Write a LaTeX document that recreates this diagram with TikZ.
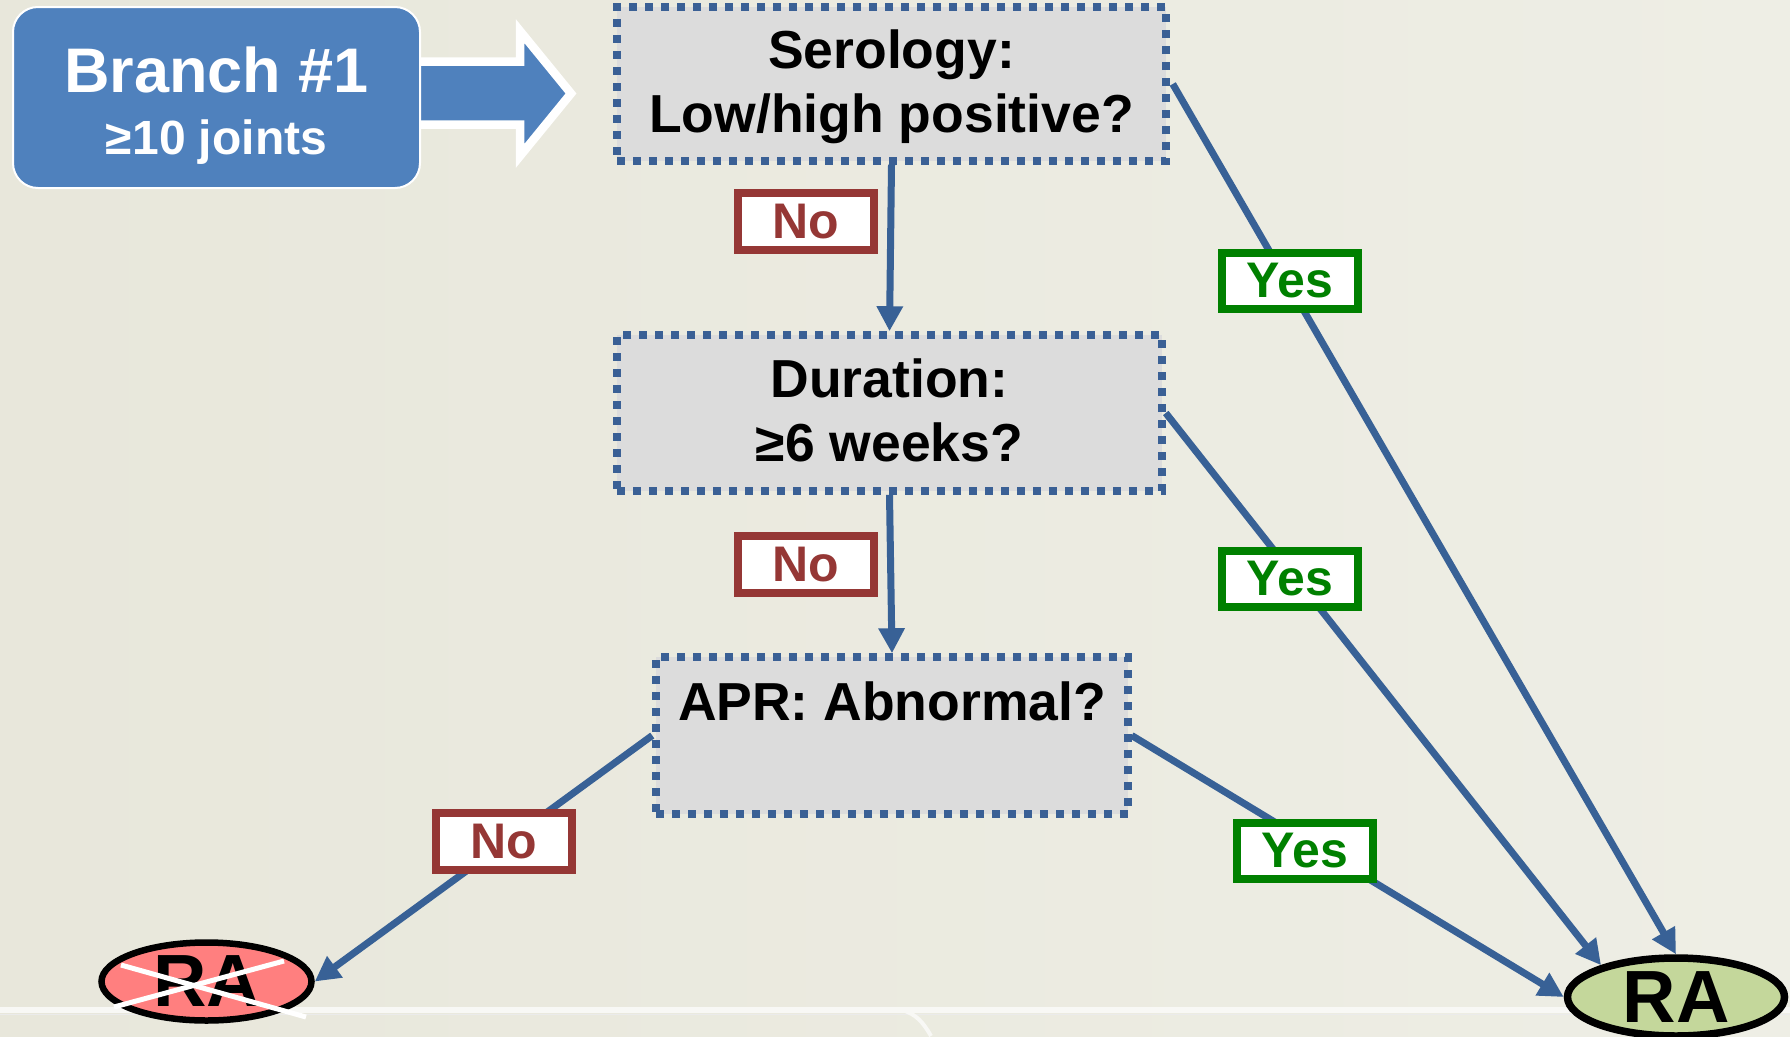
\documentclass[tikz,border=0pt]{standalone}
\usepackage{fontspec}
\setmainfont{Liberation Sans}
\usetikzlibrary{arrows.meta,shapes.geometric}

\definecolor{bgA}{RGB}{232,231,219}
\definecolor{bgB}{RGB}{238,238,229}
\definecolor{branchblue}{RGB}{79,129,189}
\definecolor{dotblue}{RGB}{58,96,149}
\definecolor{linkblue}{RGB}{56,97,150}
\definecolor{boxgray}{RGB}{220,220,220}
\definecolor{nored}{RGB}{149,55,53}
\definecolor{yesgreen}{RGB}{0,128,0}
\definecolor{rared}{RGB}{255,127,127}
\definecolor{ragreen}{RGB}{196,215,155}

\begin{document}
\begin{tikzpicture}[x=1pt,y=-1pt,
  question/.style={draw=dotblue, fill=boxgray, line width=7.5pt,
    dash pattern=on 8pt off 8pt, align=center, inner sep=0pt,
    text depth=5pt, font=\fontsize{53.5pt}{64pt}\selectfont\bfseries},
  branchbox/.style={draw=white, fill=branchblue, line width=2pt,
    rounded corners=25pt, minimum width=407pt, minimum height=181pt,
    inner sep=0pt},
  branchtext/.style={align=center, inner sep=0pt, text=white, text depth=0pt,
    font=\fontsize{63pt}{62pt}\selectfont\bfseries},
  conn/.style={draw=linkblue, line width=7pt,
    -{Triangle[length=25pt,width=25pt]}},
  answer/.style={fill=white, line width=8pt, inner sep=0pt,
    minimum width=136pt, minimum height=57pt,
    font=\fontsize{50pt}{60pt}\selectfont\bfseries},
  nolabel/.style={answer, draw=nored, text=nored},
  yeslabel/.style={answer, draw=yesgreen, text=yesgreen, minimum height=56pt},
  outcome/.style={ellipse, draw=black, inner sep=0pt,
    font=\fontsize{74pt}{74pt}\selectfont\bfseries}
]
\clip (0,0) rectangle (1790,1036);
\useasboundingbox (0,0) rectangle (1790,1036);

% backdrop
\shade[left color=bgA, right color=bgB] (0,0) rectangle (1790,1036);
\draw[black!8, line width=1.5pt] (0,1014.5) -- (1790,1014.5);
\draw[white!60!bgB, line width=6pt] (0,1010) -- (1790,1010);
\draw[white!60!bgB, line width=4pt] (902,1010) .. controls (916,1014) and (923,1022) .. (931,1036);

% block arrow leaving the branch box
\path[fill=branchblue, draw=white, line width=8.5pt, line join=miter]
  (400,61.5) -- (520,61.5) -- (520,31) -- (571,93.5) -- (520,156)
  -- (520,124.5) -- (400,124.5) -- cycle;

\node[branchbox] (br) at (216.5,97.5) {};
\node[branchtext] (brtext) at ([yshift=-3.5pt]br.center)
  {Branch \#1\\{\fontsize{48pt}{62pt}\selectfont ≥10 joints}};

% decision boxes
\node[question, minimum width=549pt, minimum height=154pt] (ser) at (891.5,84)
  {Serology:\\Low/high positive?};
\node[question, minimum width=545pt, minimum height=156pt] (dur) at (889.5,413)
  {Duration:\\≥6 weeks?};
\node[question, minimum width=472pt, minimum height=157pt] (apr) at (892,735.5)
  {APR: Abnormal?\\\mbox{}};

% outcomes
\node[outcome, fill=ragreen, line width=7.5pt, minimum width=217pt,
  minimum height=78pt] (ra) at (1676,997) {RA};
\node[outcome, fill=rared, line width=6.5pt, minimum width=210pt,
  minimum height=78pt] (nora) at (206.5,981.5) {RA};
\draw[white, line width=5pt] (121,965) -- (306,1017);
\draw[white, line width=5pt] (114,1007) -- (284,961);

% connectors
\draw[conn] (ser.south) -- (dur.north);
\draw[conn] (dur.south) -- (apr.north);
\draw[conn] ([xshift=3pt]ser.east) -- (ra.north);
\draw[conn] (dur.east) -- (ra.157);
\draw[conn] (apr.east) -- (ra.west);
\draw[conn] (apr.west) -- (nora.east);

% answer tags
\node[nolabel] (no1) at (806,221.5) {No};
\node[nolabel] (no2) at (806,564.5) {No};
\node[nolabel] (no3) at (504,841.5) {No};
\node[yeslabel] (yes1) at (1290,281) {Yes};
\node[yeslabel] (yes2) at (1290,579) {Yes};
\node[yeslabel] (yes3) at (1305,851) {Yes};
\end{tikzpicture}
\end{document}
